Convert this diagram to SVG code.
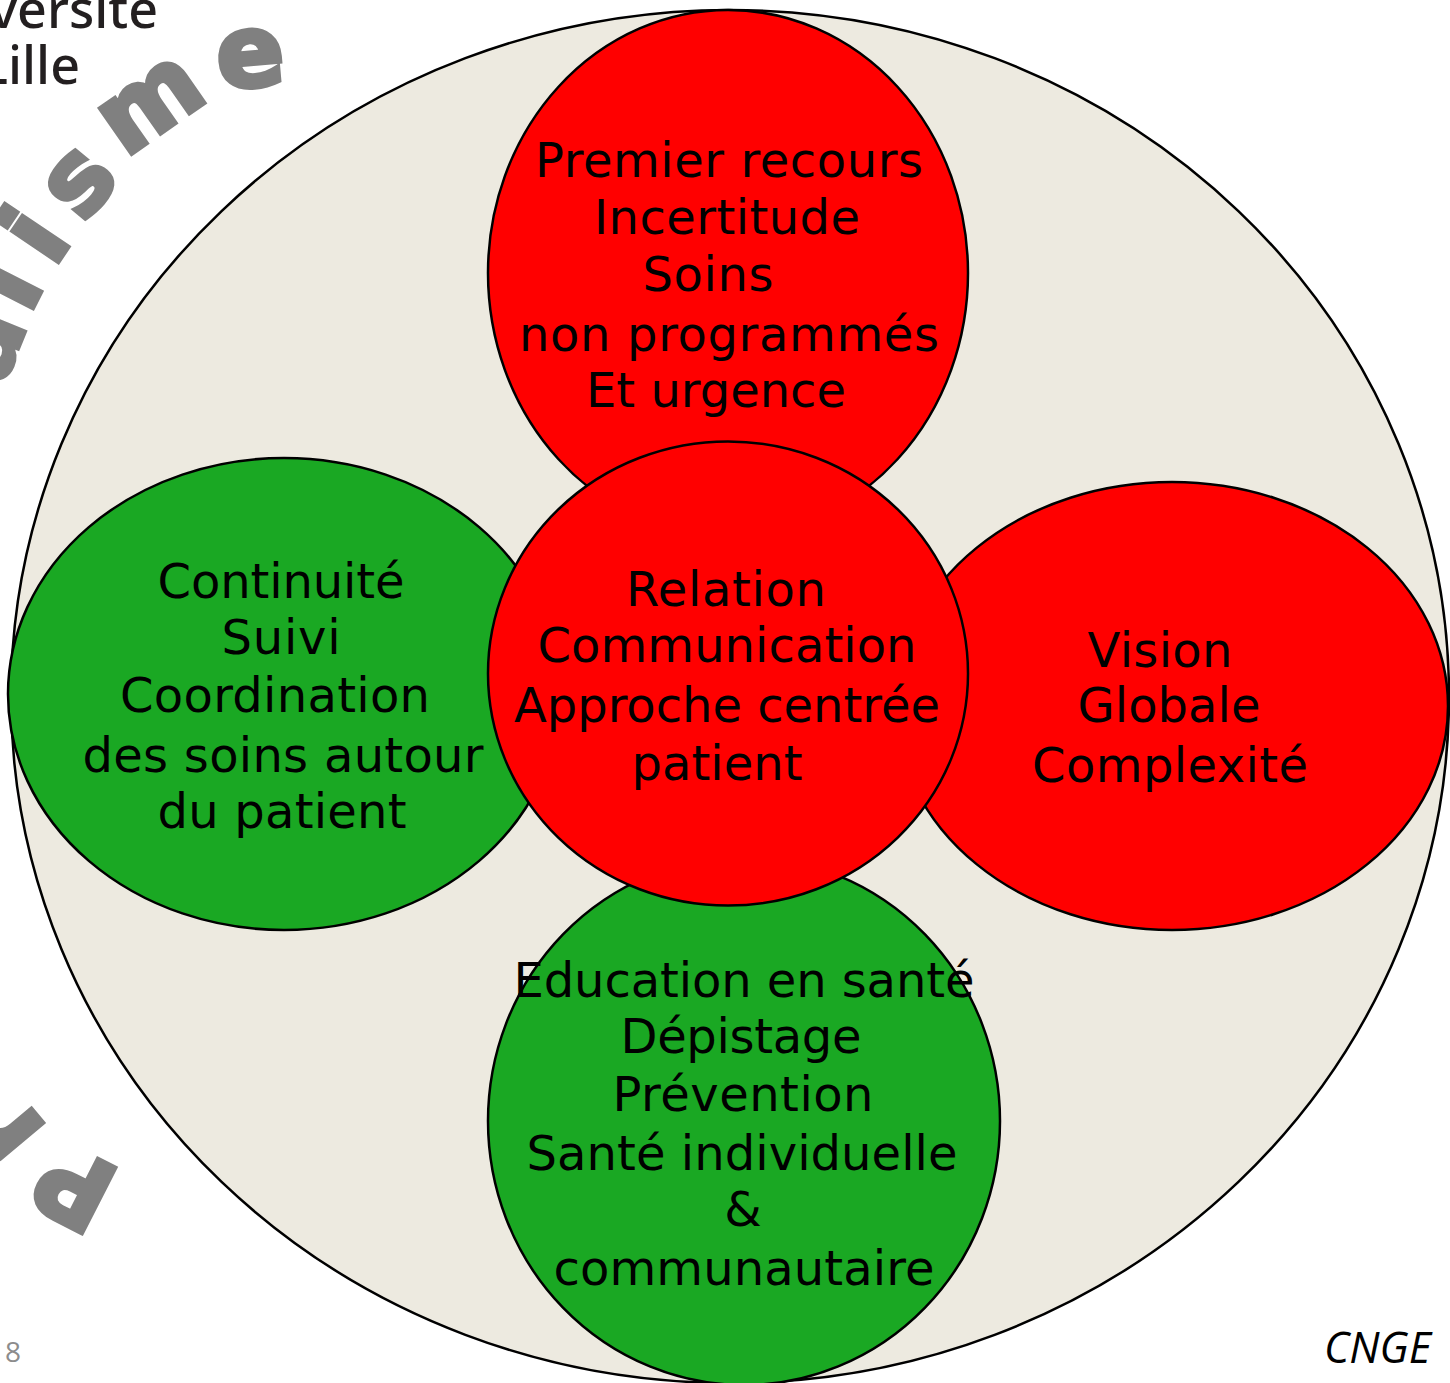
<svg xmlns="http://www.w3.org/2000/svg" width="1450" height="1383" viewBox="0 0 1450 1383">
<style>
.n{stroke:#000;stroke-width:2.5}
.r{fill:#ff0000}.g{fill:#1aa823}
.t{font-family:"DejaVu Sans",Verdana,sans-serif;font-size:48px;fill:#000;text-anchor:middle}
.w{font-family:"DejaVu Sans",Verdana,sans-serif;font-weight:bold;font-size:100px;fill:#808080;stroke:#808080;stroke-width:5}
.l{font-family:"Noto Sans",sans-serif;font-size:52px;font-weight:500;fill:#231f20;text-anchor:end}
</style>
<rect width="1450" height="1383" fill="#fff"/>
<g id="logo"><text class="l" x="158" y="28">Université</text><text class="l" x="80" y="84">Lille</text></g>
<g id="wordart">
<text class="w" transform="translate(123 1172) rotate(207)">P</text>
<text class="w" transform="translate(48 1129) rotate(230)">r</text>
<text class="w" transform="translate(2 387) rotate(-68)">a</text>
<text class="w" transform="translate(29 315) rotate(-63)">l</text>
<text class="w" transform="translate(53.5 268.6) rotate(-56)">i</text>
<text class="w" transform="translate(83 224) rotate(-50)">s</text>
<text class="w" transform="translate(125 158) rotate(-35)">m</text>
<text class="w" transform="translate(219 89) rotate(-5)">e</text>
</g>
<g id="outer"><ellipse class="n" cx="730" cy="696.5" rx="719" ry="686.5" fill="#edeae0"/></g>
<g id="top"><ellipse class="n r" cx="728" cy="273" rx="240" ry="263"/>
<text class="t" x="729" y="177" textLength="388">Premier recours</text><text class="t" x="727" y="234" textLength="266">Incertitude</text><text class="t" x="708" y="291" textLength="131">Soins</text><text class="t" x="729" y="351" textLength="420">non programmés</text><text class="t" x="716" y="407" textLength="260">Et urgence</text></g>
<g id="left"><ellipse class="n g" cx="284" cy="694" rx="276" ry="236"/>
<text class="t" x="281" y="598" textLength="247">Continuité</text><text class="t" x="281" y="654" textLength="119">Suivi</text><text class="t" x="275" y="712" textLength="310">Coordination</text><text class="t" x="283" y="772" textLength="401">des soins autour</text><text class="t" x="282" y="828" textLength="249">du patient</text></g>
<g id="right"><ellipse class="n r" cx="1172" cy="706" rx="276" ry="224"/>
<text class="t" x="1160" y="667" textLength="145">Vision</text><text class="t" x="1169" y="722" textLength="183">Globale</text><text class="t" x="1170" y="782" textLength="276">Complexité</text></g>
<g id="bottom"><ellipse class="n g" cx="744" cy="1121" rx="256" ry="264"/>
<text class="t" x="744" y="997" textLength="461">Education en santé</text><text class="t" x="741" y="1053" textLength="241">Dépistage</text><text class="t" x="743" y="1111" textLength="261">Prévention</text><text class="t" x="742" y="1170" textLength="431">Santé individuelle</text><text class="t" x="743" y="1226">&amp;</text><text class="t" x="744" y="1285" textLength="381">communautaire</text></g>
<g id="center"><ellipse class="n r" cx="728" cy="673.5" rx="240" ry="232"/>
<text class="t" x="726" y="606" textLength="200">Relation</text><text class="t" x="727" y="662" textLength="379">Communication</text><text class="t" x="727" y="722" textLength="426">Approche centrée</text><text class="t" x="717" y="780" textLength="171">patient</text></g>
<text x="1431" y="1363" font-family="Open Sans, sans-serif" font-style="italic" font-size="43" text-anchor="end" fill="#000">CNGE</text>
<text x="21" y="1362" font-family="Open Sans, sans-serif" font-size="28" text-anchor="end" fill="#8c8c8c">18</text>
</svg>
